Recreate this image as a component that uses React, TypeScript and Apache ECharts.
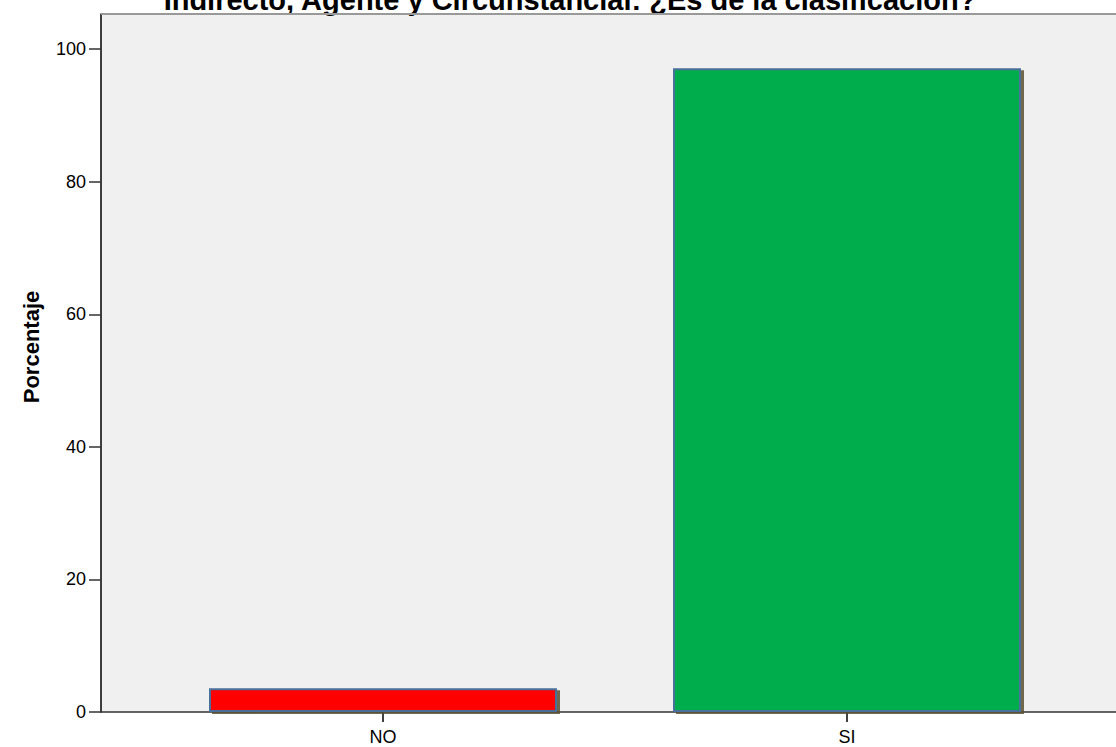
import React, { useEffect, useRef } from "react";
import * as echarts from "echarts";

const titleText = "Indirecto, Agente y Circunstancial: ¿Es de la clasificación?";
const categories = ["NO", "SI"];
const percentValues = [3.6, 97.1];
const barColors = ["#ff0000", "#00ad4e"];
const yTickValues = [0, 20, 40, 60, 80, 100];
const yAxisName = "Porcentaje";

const FONT = "Liberation Sans, Arial, sans-serif";

export default function App() {
  const ref = useRef<HTMLDivElement>(null);
  useEffect(() => {
    if (!ref.current) return;
    const chart = echarts.init(ref.current, undefined, { renderer: "svg" });
    const yMax = 105.3;
    chart.setOption({
      animation: false,
      backgroundColor: "#ffffff",
      title: {
        text: titleText,
        left: 570,
        textAlign: "center",
        top: -15,
        padding: 0,
        textStyle: { fontFamily: FONT, fontSize: 29, fontWeight: "bold", color: "#000" },
      },
      grid: [
        { left: 101, right: 0, top: 14, bottom: 35, show: false },
        { left: 151, right: 37, top: 14, bottom: 35 },
      ],
      xAxis: [
        {
          gridIndex: 0,
          type: "value",
          min: 0,
          max: 1,
          axisLine: { show: true, lineStyle: { color: "#333", width: 1.5 } },
          axisTick: { show: false },
          axisLabel: { show: false },
          splitLine: { show: false },
        },
        {
          gridIndex: 1,
          type: "category",
          data: categories,
          axisLine: { show: false },
          axisTick: { show: true, alignWithLabel: true, length: 10, lineStyle: { color: "#000", width: 1.5 } },
          axisLabel: { color: "#000", fontFamily: FONT, fontSize: 18, margin: 16 },
          splitLine: { show: false },
        },
      ],
      yAxis: [
        {
          gridIndex: 0,
          type: "value",
          min: 0,
          max: yMax,
          axisLine: { show: true, lineStyle: { color: "#000", width: 1.5 } },
          axisTick: { show: true, length: 12, customValues: yTickValues, lineStyle: { color: "#333", width: 1.5 } },
          axisLabel: { color: "#000", fontFamily: FONT, fontSize: 18, margin: 15, customValues: yTickValues },
          splitLine: { show: false },
        },
        {
          gridIndex: 1,
          type: "value",
          min: 0,
          max: yMax,
          show: false,
        },
      ],
      graphic: [
        {
          type: "rect",
          shape: { x: 101, y: 14, width: 1020, height: 698 },
          style: { fill: "#f0f0f0" },
          z: -10,
        },
        {
          type: "line",
          shape: { x1: 101, y1: 14, x2: 1116, y2: 14 },
          style: { stroke: "#999", lineWidth: 2 },
          z: 10,
        },
        {
          type: "text",
          x: 31,
          y: 347,
          rotation: Math.PI / 2,
          style: {
            text: yAxisName,
            align: "center",
            verticalAlign: "middle",
            font: "bold 22px Liberation Sans, Arial, sans-serif",
            fill: "#000",
          },
        },
      ],
      series: [
        {
          type: "bar",
          xAxisIndex: 1,
          yAxisIndex: 1,
          barWidth: 348,
          data: percentValues.map((v, i) => ({
            value: v,
            itemStyle: { color: barColors[i] },
          })),
          itemStyle: {
            borderColor: "#4a6f9a",
            borderWidth: 2,
            shadowColor: "rgba(90,80,50,0.85)",
            shadowBlur: 0,
            shadowOffsetX: 3,
            shadowOffsetY: 2,
          },
        },
      ],
    });
    return () => chart.dispose();
  }, []);
  return (
    <div
      ref={ref}
      style={{ position: "absolute", left: 0, top: 0, width: 1116, height: 747 }}
    />
  );
}
